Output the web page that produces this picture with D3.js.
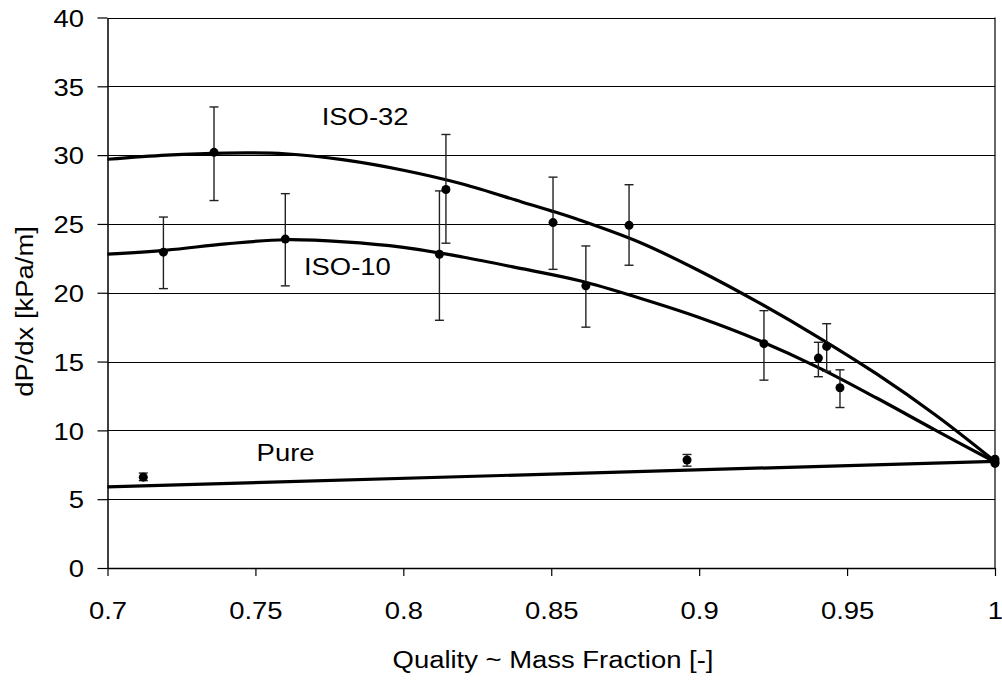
<!DOCTYPE html>
<html>
<head>
<meta charset="utf-8">
<script src="https://cdn.jsdelivr.net/npm/d3@7"></script>
<style>
  html, body { margin: 0; padding: 0; background: #fff; }
  svg { display: block; }
  text { font-family: "Liberation Sans", Arial, sans-serif; fill: #000; }
</style>
</head>
<body>
<svg id="chart" width="1002" height="681"></svg>
<script>
// ---------- data ----------
const xTicks = [0.7, 0.75, 0.8, 0.85, 0.9, 0.95, 1];
const xTickLabels = ["0.7", "0.75", "0.8", "0.85", "0.9", "0.95", "1"];
const yTicks = [0, 5, 10, 15, 20, 25, 30, 35, 40];
const yTickLabels = ["0", "5", "10", "15", "20", "25", "30", "35", "40"];

// measured points with error bars
const iso32X  = [0.736, 0.8144, 0.8506, 0.8763, 0.9431, 1.0];
const iso32Y  = [30.2, 27.5, 25.1, 24.9, 16.1, 7.9];
const iso32Lo = [26.7, 23.6, 21.7, 22.0, 14.3, 7.9];
const iso32Hi = [33.5, 31.5, 28.4, 27.85, 17.75, 7.9];

const iso10X  = [0.7189, 0.7601, 0.8122, 0.8617, 0.9219, 0.9403, 0.9476, 1.0];
const iso10Y  = [22.95, 23.9, 22.8, 20.5, 16.3, 15.25, 13.1, 7.7];
const iso10Lo = [20.3, 20.5, 18.0, 17.5, 13.65, 13.9, 11.66, 7.7];
const iso10Hi = [25.5, 27.2, 27.4, 23.4, 18.7, 16.4, 14.4, 7.7];

const pureX  = [0.7121, 0.8959, 1.0];
const pureY  = [6.6, 7.85, 7.6];
const pureLo = [6.35, 7.4, 7.6];
const pureHi = [6.9, 8.25, 7.6];

// fitted trend curves
const iso32FitX = [0.70, 0.72, 0.74, 0.76, 0.78, 0.80, 0.82, 0.84, 0.85, 0.86, 0.88, 0.90, 0.92, 0.94, 0.96, 0.98, 1.00];
const iso32FitY = [29.7, 30.0, 30.15, 30.1, 29.65, 28.9, 27.9, 26.6, 25.95, 25.25, 23.65, 21.6, 19.3, 16.8, 14.1, 11.1, 7.75];
const iso10FitX = [0.70, 0.72, 0.74, 0.76, 0.78, 0.80, 0.82, 0.84, 0.86, 0.88, 0.90, 0.92, 0.94, 0.96, 0.98, 1.00];
const iso10FitY = [22.8, 23.1, 23.55, 23.85, 23.7, 23.3, 22.6, 21.75, 20.85, 19.6, 18.2, 16.55, 14.6, 12.35, 10.0, 7.7];
const pureFitX = [0.70, 1.00];
const pureFitY = [5.9, 7.75];

// curve labels
const labelText = ["ISO-32", "ISO-10", "Pure"];
const labelX = [0.7724, 0.7664, 0.7504];
const labelY = [32.2, 21.3, 7.8];

const xTitle = "Quality ~ Mass Fraction [-]";
const yTitle = "dP/dx [kPa/m]";

// ---------- layout ----------
const mLeft = 107.5, mRight = 995, mTop = 17.5, mBottom = 568;
const FS = 24.5, SX = 1.12;

const svg = d3.select("#chart");
const x = d3.scaleLinear().domain([0.7, 1]).range([mLeft, mRight]);
const y = d3.scaleLinear().domain([0, 40]).range([mBottom, mTop]);

// gridlines
svg.append("g").selectAll("line").data(yTicks.filter(d => d > 0)).join("line")
  .attr("x1", mLeft).attr("x2", mRight)
  .attr("y1", d => Math.round(y(d)) + 0.5).attr("y2", d => Math.round(y(d)) + 0.5)
  .attr("stroke", "#000").attr("stroke-width", 1);

// right border
svg.append("line").attr("x1", mRight).attr("x2", mRight).attr("y1", mTop).attr("y2", mBottom)
  .attr("stroke", "#000").attr("stroke-width", 1.2);

// axes
const xAxis = d3.axisBottom(x).tickValues(xTicks).tickSize(8).tickSizeOuter(0)
  .tickFormat((d, i) => xTickLabels[i]);
const gx = svg.append("g").attr("transform", `translate(0,${mBottom})`).call(xAxis);
gx.select(".domain").attr("stroke", "#000").attr("stroke-width", 1.5);
gx.selectAll(".tick line").attr("stroke", "#000").attr("stroke-width", 1.2);
gx.selectAll(".tick text")
  .attr("font-family", "Liberation Sans, Arial, sans-serif")
  .attr("font-size", FS).attr("fill", "#000")
  .attr("y", 51).attr("dy", 0)
  .attr("transform", `scale(${SX},1)`);

const yAxis = d3.axisLeft(y).tickValues(yTicks).tickSize(10).tickSizeOuter(0)
  .tickFormat((d, i) => yTickLabels[i]);
const gy = svg.append("g").attr("transform", `translate(${mLeft},0)`).call(yAxis);
gy.select(".domain").attr("stroke", "#000").attr("stroke-width", 1.5);
gy.selectAll(".tick line").attr("stroke", "#000").attr("stroke-width", 1.2);
gy.selectAll(".tick text")
  .attr("font-family", "Liberation Sans, Arial, sans-serif")
  .attr("font-size", FS).attr("fill", "#000")
  .attr("x", -23.5 / SX).attr("dy", 0).attr("y", 8.8)
  .attr("transform", `scale(${SX},1)`);

// titles
svg.append("text")
  .attr("transform", `translate(553,668) scale(${SX},1)`)
  .attr("text-anchor", "middle").attr("font-size", FS)
  .text(xTitle);
svg.append("text")
  .attr("transform", `translate(33,311.5) rotate(-90) scale(${SX},1)`)
  .attr("text-anchor", "middle").attr("font-size", FS)
  .text(yTitle);

// fitted curves
const lineGen = d3.line().x(d => x(d[0])).y(d => y(d[1])).curve(d3.curveCatmullRom.alpha(0.5));
const fits = [
  d3.zip(iso32FitX, iso32FitY),
  d3.zip(iso10FitX, iso10FitY),
  d3.zip(pureFitX, pureFitY)
];
svg.append("g").selectAll("path").data(fits).join("path")
  .attr("d", lineGen)
  .attr("fill", "none").attr("stroke", "#000").attr("stroke-width", 3.2)
  .attr("stroke-linejoin", "round");

// points & error bars
const series = [
  {X: iso32X, Y: iso32Y, Lo: iso32Lo, Hi: iso32Hi},
  {X: iso10X, Y: iso10Y, Lo: iso10Lo, Hi: iso10Hi},
  {X: pureX, Y: pureY, Lo: pureLo, Hi: pureHi}
];
const pts = [];
series.forEach(s => s.X.forEach((v, i) => pts.push({x: v, y: s.Y[i], lo: s.Lo[i], hi: s.Hi[i]})));

const eb = svg.append("g").attr("stroke", "#222").attr("stroke-width", 1.4);
const ebPts = pts.filter(p => p.hi - p.lo > 0.05);
eb.selectAll(".v").data(ebPts).join("line").attr("class", "v")
  .attr("x1", d => x(d.x)).attr("x2", d => x(d.x))
  .attr("y1", d => y(d.hi)).attr("y2", d => y(d.lo));
eb.selectAll(".ct").data(ebPts).join("line").attr("class", "ct")
  .attr("x1", d => x(d.x) - 4.5).attr("x2", d => x(d.x) + 4.5)
  .attr("y1", d => y(d.hi)).attr("y2", d => y(d.hi));
eb.selectAll(".cb").data(ebPts).join("line").attr("class", "cb")
  .attr("x1", d => x(d.x) - 4.5).attr("x2", d => x(d.x) + 4.5)
  .attr("y1", d => y(d.lo)).attr("y2", d => y(d.lo));

svg.append("g").selectAll("circle").data(pts).join("circle")
  .attr("cx", d => x(d.x)).attr("cy", d => y(d.y)).attr("r", 4.5)
  .attr("fill", "#000");

// curve labels
svg.append("g").selectAll("text").data(labelText).join("text")
  .attr("transform", (d, i) => `translate(${x(labelX[i])},${y(labelY[i])}) scale(${SX},1)`)
  .attr("font-size", FS)
  .text(d => d);
</script>
</body>
</html>
